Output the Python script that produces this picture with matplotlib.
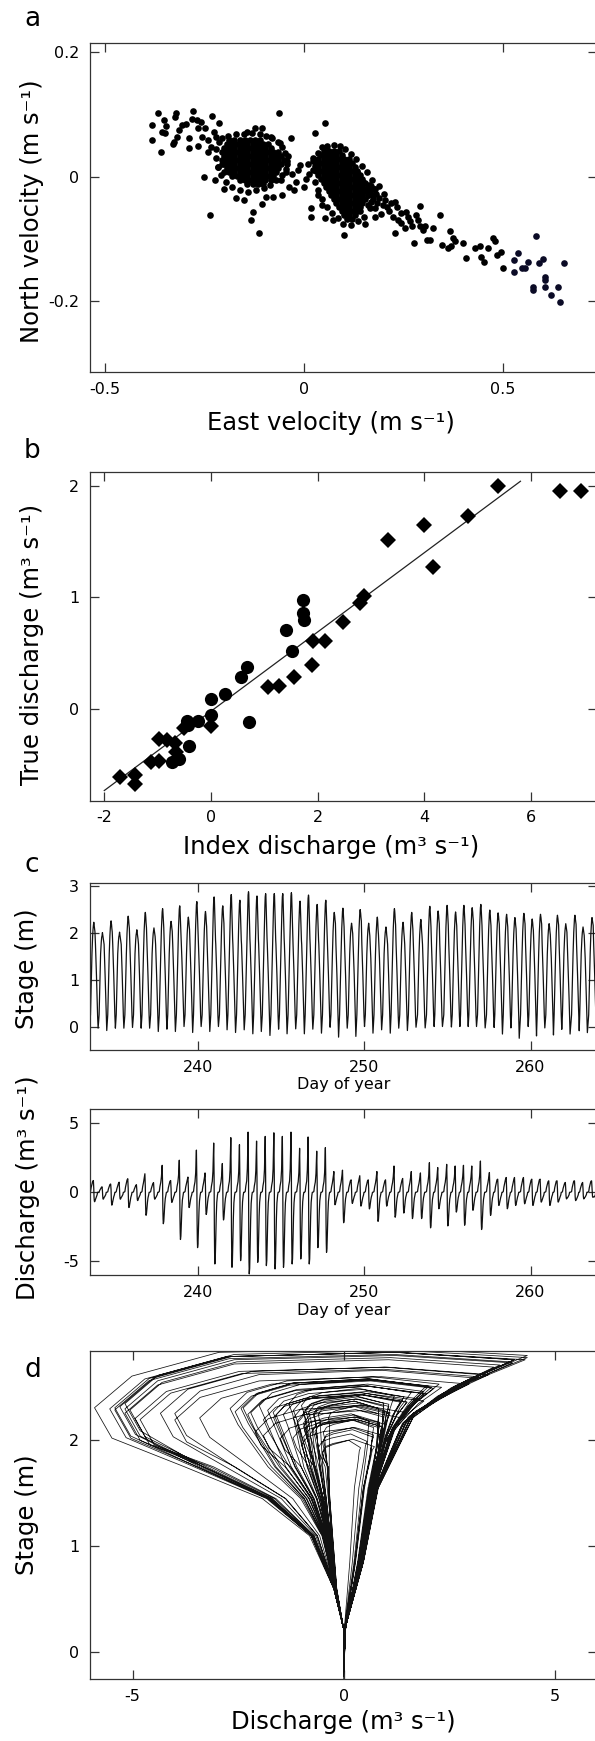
import matplotlib
matplotlib.use("Agg")
import matplotlib.pyplot as plt

plt.rcParams['font.family'] = ['DejaVu Sans']
plt.rcParams['axes.unicode_minus'] = False

# ---------------- panel a : velocity scatter ----------------
sparse_a = [(-0.367, 0.103), (-0.322, 0.103), (-0.278, 0.106), (-0.324, 0.096), (-0.230, 0.098),
            (-0.062, 0.103), (-0.381, 0.083), (-0.352, 0.091), (-0.346, 0.081), (-0.307, 0.083),
            (-0.296, 0.085), (-0.281, 0.093), (-0.269, 0.091), (-0.259, 0.088), (-0.214, 0.086),
            (-0.248, 0.079), (-0.381, 0.059), (-0.357, 0.072), (-0.350, 0.070), (-0.314, 0.075),
            (-0.319, 0.064), (-0.288, 0.063), (-0.267, 0.078), (-0.257, 0.064), (-0.240, 0.059),
            (-0.227, 0.072), (-0.222, 0.064), (-0.360, 0.039), (-0.329, 0.052), (-0.326, 0.056),
            (-0.289, 0.046), (-0.267, 0.050), (-0.240, 0.040), (-0.233, 0.048), (-0.250, 0.000),
            (-0.223, -0.006), (-0.236, -0.061), (-0.217, 0.016), (-0.171, -0.034), (-0.114, -0.091),
            (-0.133, -0.070), (-0.129, -0.057), (-0.105, -0.044), (-0.078, -0.032), (-0.055, -0.029),
            (-0.124, 0.079), (-0.105, 0.078), (-0.083, 0.064),
            (-0.059, 0.054), (-0.032, 0.063), (-0.143, 0.072), (-0.205, 0.020), (-0.200, 0.008),
            (-0.043, 0.020), (-0.029, 0.005), (-0.010, 0.019), (0.010, 0.020), (-0.019, -0.008),
            (-0.024, -0.021), (0.000, -0.016), (0.029, 0.017), (0.014, 0.005), (-0.057, -0.005),
            (-0.038, -0.016), (-0.045, 0.008), (-0.015, 0.010), (0.005, -0.004), (-0.040, 0.033),
            (0.052, 0.087), (0.029, 0.071), (0.019, -0.051), (0.019, -0.065), (0.052, -0.067),
            (0.074, -0.069), (0.102, -0.094), (0.154, -0.076), (0.022, 0.030), (0.035, -0.030),
            (0.045, -0.045)]
# ragged rims of the two dense clouds
rim_a = [(-0.222, 0.045), (-0.220, 0.030), (-0.216, 0.015), (-0.208, 0.002), (-0.195, -0.008),
         (-0.180, -0.016), (-0.160, -0.021), (-0.140, -0.024), (-0.120, -0.021), (-0.100, -0.018),
         (-0.085, -0.013), (-0.070, -0.006), (-0.055, 0.002), (-0.046, 0.012), (-0.042, 0.025),
         (-0.047, 0.038), (-0.056, 0.048), (-0.066, 0.056), (-0.080, 0.062), (-0.095, 0.066),
         (-0.110, 0.068), (-0.130, 0.070), (-0.150, 0.069), (-0.170, 0.068), (-0.190, 0.066),
         (-0.205, 0.062), (-0.214, 0.056), (-0.150, -0.038), (-0.095, -0.033), (-0.200, -0.020),
         (0.022, 0.025), (0.022, 0.010), (0.027, -0.008), (0.036, -0.022), (0.046, -0.036),
         (0.058, -0.048), (0.070, -0.058), (0.085, -0.066), (0.098, -0.076), (0.118, -0.078),
         (0.135, -0.072), (0.150, -0.064), (0.165, -0.050), (0.175, -0.036), (0.180, -0.020),
         (0.172, -0.005), (0.158, 0.008), (0.145, 0.018), (0.130, 0.028), (0.118, 0.036),
         (0.104, 0.044), (0.090, 0.050), (0.075, 0.051), (0.058, 0.050), (0.045, 0.047),
         (0.035, 0.038)]
tail_a = [(0.111, 0.019), (0.133, 0.008), (0.148, -0.008), (0.164, -0.013), (0.176, -0.019),
          (0.181, -0.027), (0.202, -0.027), (0.205, -0.037), (0.210, -0.048), (0.219, -0.043),
          (0.229, -0.040), (0.233, -0.048), (0.236, -0.070), (0.229, -0.091), (0.243, -0.059),
          (0.257, -0.056), (0.262, -0.064), (0.267, -0.072), (0.271, -0.080), (0.276, -0.106),
          (0.281, -0.062), (0.286, -0.070), (0.291, -0.047), (0.293, -0.080), (0.300, -0.086),
          (0.305, -0.080), (0.310, -0.102), (0.316, -0.102), (0.324, -0.083), (0.341, -0.062),
          (0.348, -0.109), (0.362, -0.115), (0.367, -0.088), (0.371, -0.112), (0.376, -0.099),
          (0.381, -0.104), (0.400, -0.107), (0.408, -0.131), (0.429, -0.115), (0.443, -0.112),
          (0.446, -0.129), (0.452, -0.137), (0.462, -0.115), (0.476, -0.098), (0.481, -0.104),
          (0.486, -0.126), (0.495, -0.121), (0.500, -0.147),
          (0.160, -0.030), (0.170, -0.040), (0.190, -0.035), (0.200, -0.045), (0.180, -0.050),
          (0.195, -0.060), (0.215, -0.055), (0.225, -0.065), (0.245, -0.075), (0.255, -0.082),
          (0.170, -0.015), (0.155, -0.020), (0.190, -0.015), (0.160, -0.045), (0.140, -0.055),
          (0.180, -0.065), (0.175, -0.030), (0.185, -0.042)]
far_a = [(0.529, -0.134), (0.529, -0.153), (0.538, -0.123), (0.548, -0.147), (0.557, -0.147),
         (0.564, -0.137), (0.584, -0.096), (0.590, -0.139), (0.602, -0.133), (0.605, -0.161),
         (0.605, -0.166), (0.576, -0.177), (0.576, -0.182), (0.605, -0.177), (0.622, -0.190),
         (0.638, -0.177), (0.643, -0.202), (0.654, -0.139)]
# dense cores: north value of each row and the east values along it
core1_north = [0.0595, 0.053, 0.0465, 0.040, 0.0335, 0.027, 0.0205, 0.014, 0.0075,
               0.001, -0.0055, -0.012]
core1_east = [
    [-0.1875, -0.1745, -0.1615, -0.1485, -0.1355, -0.1225, -0.1095],
    [-0.194, -0.181, -0.168, -0.155, -0.142, -0.129, -0.116, -0.103, -0.090],
    [-0.2005, -0.1875, -0.1745, -0.1615, -0.1485, -0.1355, -0.1225, -0.1095, -0.0965, -0.0835],
    [-0.207, -0.194, -0.181, -0.168, -0.155, -0.142, -0.129, -0.116, -0.103, -0.090, -0.077,
     -0.064],
    [-0.2005, -0.1875, -0.1745, -0.1615, -0.1485, -0.1355, -0.1225, -0.1095, -0.0965,
     -0.0835, -0.0705, -0.0575],
    [-0.207, -0.194, -0.181, -0.168, -0.155, -0.142, -0.129, -0.116, -0.103, -0.090, -0.077,
     -0.064, -0.051],
    [-0.2005, -0.1875, -0.1745, -0.1615, -0.1485, -0.1355, -0.1225, -0.1095, -0.0965, -0.0835,
     -0.0705, -0.0575],
    [-0.194, -0.181, -0.168, -0.155, -0.142, -0.129, -0.116, -0.103, -0.090, -0.077, -0.064],
    [-0.1875, -0.1745, -0.1615, -0.1485, -0.1355, -0.1225, -0.1095, -0.0965, -0.0835, -0.0705],
    [-0.181, -0.168, -0.155, -0.142, -0.129, -0.116, -0.103, -0.090, -0.077],
    [-0.1615, -0.1485, -0.1355, -0.1225, -0.1095, -0.0965, -0.0835],
    [-0.142, -0.129, -0.116, -0.103]]
core2_north = [0.042, 0.0355, 0.029, 0.0225, 0.016, 0.0095, 0.003, -0.0035, -0.010, -0.0165,
               -0.023, -0.0295, -0.036, -0.0425, -0.049, -0.0555, -0.062, -0.0685]
core2_east = [
    [0.0495, 0.0625, 0.0755, 0.0885],
    [0.043, 0.056, 0.069, 0.082, 0.095],
    [0.0365, 0.0495, 0.0625, 0.0755, 0.0885, 0.1015, 0.1145],
    [0.030, 0.043, 0.056, 0.069, 0.082, 0.095, 0.108, 0.121],
    [0.0365, 0.0495, 0.0625, 0.0755, 0.0885, 0.1015, 0.1145, 0.1275],
    [0.030, 0.043, 0.056, 0.069, 0.082, 0.095, 0.108, 0.121, 0.134],
    [0.0365, 0.0495, 0.0625, 0.0755, 0.0885, 0.1015, 0.1145, 0.1275, 0.1405],
    [0.043, 0.056, 0.069, 0.082, 0.095, 0.108, 0.121, 0.134, 0.147],
    [0.0495, 0.0625, 0.0755, 0.0885, 0.1015, 0.1145, 0.1275, 0.1405, 0.1535],
    [0.056, 0.069, 0.082, 0.095, 0.108, 0.121, 0.134, 0.147, 0.160],
    [0.0625, 0.0755, 0.0885, 0.1015, 0.1145, 0.1275, 0.1405, 0.1535, 0.1665],
    [0.069, 0.082, 0.095, 0.108, 0.121, 0.134, 0.147, 0.160],
    [0.0755, 0.0885, 0.1015, 0.1145, 0.1275, 0.1405, 0.1535],
    [0.082, 0.095, 0.108, 0.121, 0.134, 0.147],
    [0.0885, 0.1015, 0.1145, 0.1275, 0.1405],
    [0.095, 0.108, 0.121, 0.134],
    [0.1015, 0.1145, 0.1275],
    [0.108, 0.121]]

# ---------------- panel b : rating ----------------
diamond_x = [-1.70, -1.43, -1.42, -1.13, -0.97, -0.97, -0.83, -0.67, -0.65, -0.51, 0.0, 1.06, 1.28,
             1.55, 1.89, 1.91, 2.13, 2.48, 2.79, 2.86, 3.32, 3.99, 4.16, 4.81, 5.38, 6.55, 6.94]
diamond_y = [-0.612, -0.59, -0.67, -0.475, -0.463, -0.272, -0.28, -0.30, -0.388, -0.167, -0.149, 0.20,
             0.206, 0.29, 0.394, 0.609, 0.612, 0.782, 0.946, 1.015, 1.513, 1.648, 1.275, 1.728, 2.0,
             1.952, 1.952]
circle_x = [-0.74, -0.60, -0.42, -0.45, -0.43, -0.24, 0.0, 0.0, 0.27, 0.57, 0.68, 0.71, 1.40, 1.52,
            1.72, 1.72, 1.74]
circle_y = [-0.475, -0.45, -0.331, -0.104, -0.143, -0.104, 0.087, -0.054, 0.131, 0.29, 0.379, -0.113,
            0.707, 0.522, 0.976, 0.863, 0.797]
fit_x = [-2.0, 5.8]
fit_y = [-0.73, 2.04]

# ---------------- panel c/d : tidal cycles ----------------
peak_day = [233.72, 234.24, 234.76, 235.27, 235.79, 236.31, 236.82, 237.34, 237.86, 238.37,
            238.89, 239.41, 239.92, 240.44, 240.96, 241.48, 241.99, 242.51, 243.03, 243.54,
            244.06, 244.58, 245.09, 245.61, 246.13, 246.64, 247.16, 247.68, 248.19, 248.71,
            249.23, 249.75, 250.26, 250.78, 251.30, 251.81, 252.33, 252.85, 253.40, 253.94,
            254.44, 254.98, 255.49, 255.99, 256.49, 257.01, 257.55, 258.05, 258.56, 259.06,
            259.60, 260.10, 260.60, 261.12, 261.62, 262.12, 262.67, 263.16, 263.70]
stage_peak = [2.22, 2.00, 2.25, 2.01, 2.35, 2.06, 2.43, 2.10, 2.51, 2.24, 2.57, 2.33, 2.66, 2.45,
              2.76, 2.57, 2.81, 2.69, 2.87, 2.78, 2.83, 2.83, 2.83, 2.85, 2.67, 2.80, 2.60, 2.69,
              2.43, 2.52, 2.20, 2.49, 2.20, 2.33, 2.12, 2.51, 2.22, 2.43, 2.28, 2.56, 2.46, 2.58,
              2.44, 2.58, 2.53, 2.60, 2.48, 2.42, 2.39, 2.32, 2.41, 2.29, 2.39, 2.19, 2.37, 2.19,
              2.37, 2.12, 2.32]
stage_trough = [-0.05, -0.035, -0.085, -0.035, -0.035, -0.02, -0.035, -0.035, -0.106, -0.056, -0.106,
                0.0, -0.127, 0.0, -0.106, 0.0, -0.07, -0.127, -0.07, -0.155, -0.106, -0.19, -0.056,
                -0.155, -0.05, -0.155, -0.056, -0.141, -0.015, -0.226, -0.035, -0.21, 0.0, -0.141,
                -0.07, -0.141, -0.035, -0.085, -0.015, -0.03, 0.0, 0.0, -0.01, 0.0, 0.0, 0.0, -0.03,
                -0.02, -0.16, -0.03, -0.25, 0.0, -0.2, -0.03, -0.18, -0.06, -0.16, -0.09, -0.13, -0.05]
q_pos = [0.85, 0.4, 0.6, 0.73, 0.98, 0.55, 1.34, 0.7, 1.95, 0.85, 2.32, 1.1, 3.05, 1.4, 3.56, 2.08,
         3.95, 3.44, 4.35, 3.7, 4.04, 4.3, 4.04, 4.35, 3.18, 4.0, 2.97, 3.23, 1.5, 1.6, 0.9, 1.2, 0.9,
         1.5, 0.9, 1.9, 1.0, 1.5, 1.4, 2.14, 1.79, 2.02, 1.9, 1.95, 1.9, 2.26, 1.43, 0.95, 1.07,
         1.07, 1.07, 0.95, 0.95, 0.83, 0.83, 0.71, 0.83, 0.71, 0.83]
q_neg = [-0.68, -0.5, -0.93, -0.5, -1.1, -0.6, -1.66, -0.5, -2.27, -0.73, -3.41, -1.1, -4.0, -1.6,
         -5.18, -2.0, -5.42, -4.94, -5.9, -5.06, -5.3, -5.54, -5.42, -5.18, -4.82, -5.18, -4.0,
         -4.34, -0.9, -2.2, -0.8, -1.0, -1.2, -2.1, -1.0, -1.8, -1.5, -1.9, -1.9, -2.57, -1.19,
         -2.43, -1.43, -2.38, -1.3, -2.69, -1.67, -0.95, -1.19, -0.95, -0.83, -0.95, -0.71, -0.95,
         -0.71, -0.48, -0.6, -0.48, -0.36]
# timing of the within-cycle vertices relative to high water (days)
cycle_offsets = [-0.20, -0.16, -0.11, -0.07, -0.045, -0.025, 0.0, 0.015, 0.03, 0.045, 0.07,
                 0.085, 0.10, 0.13, 0.16, 0.20, 0.23, 0.26]

t_series = [peak_day[0] - 0.26]
h_series = [stage_trough[0]]
q_series = [0.0]
for k in range(len(peak_day)):
    tp, Hk, P, N, L = peak_day[k], stage_peak[k], q_pos[k], q_neg[k], stage_trough[k + 1]
    s = abs(N) / 5.5
    r = min(1.0, P / 0.9)
    a = Hk / 2.45
    hk = Hk - 0.68 * s - 0.12
    ql = -0.45 * a + 0.6 * (N + 0.5)
    hs = [0.25, 0.85, 1.55, 1.55 + 0.55 * (Hk - 1.55), 1.55 + 0.78 * (Hk - 1.55), Hk - 0.07, Hk,
          Hk - 0.04, Hk - 0.2 * s - 0.05, Hk - 0.45 * s - 0.08, hk, 1.75 + 0.4 * (hk - 1.75),
          1.75, 1.45, 1.1, 0.6, 0.22, L]
    base = 0.9 * r * a
    qs = [0.05 * r, 0.4 * r * a, 0.7 * r * a, base + 0.2 * (P - base), base + 0.6 * (P - base), P,
          0.3 * P, 0.5 * N, 0.85 * N, N, 0.93 * N, 0.4 * 0.93 * N + 0.6 * ql, ql,
          -0.4 * a + 0.27 * (N + 0.5), -0.32 * a + 0.08 * (N + 0.5), -0.2 * a, 0.0, 0.0]
    for o, hv, qv in zip(cycle_offsets, hs, qs):
        t_series.append(tp + o)
        h_series.append(hv)
        q_series.append(qv)

# ---------------- figure ----------------
W, H = 595, 1741
fig = plt.figure(figsize=(W / 100, H / 100), dpi=100)
SP = '#333333'
LAB = 17.5
TK = 11.5


def add_ax(top, bottom, left=90.3, right=597.0):
    return fig.add_axes([left / W, 1 - bottom / H, (right - left) / W, (bottom - top) / H])


def style(ax, xt, xtl, yt, ytl, xlim, ylim):
    ax.set_xlim(*xlim)
    ax.set_ylim(*ylim)
    ax.set_xticks(xt)
    ax.set_xticklabels(xtl)
    ax.set_yticks(yt)
    ax.set_yticklabels(ytl)
    ax.tick_params(axis='both', direction='in', length=6.5, width=0.9, color=SP,
                   top=True, right=True, labelsize=TK, labelcolor='black')
    ax.tick_params(axis='x', pad=7)
    ax.tick_params(axis='y', pad=8)
    for sp in ax.spines.values():
        sp.set_color(SP)
        sp.set_linewidth(0.9)


def labels(ax, xl, xpos, yl, ypos):
    ax.set_xlabel(xl, fontsize=LAB if xpos[2] else TK, va='center', ha='center')
    ax.xaxis.set_label_coords(xpos[0], xpos[1])
    ax.set_ylabel(yl, fontsize=LAB, va='center', ha='center')
    ax.yaxis.set_label_coords(ypos[0], ypos[1])


# panel a
axa = add_ax(43.3, 372.0)
e_core, n_core = [], []
for nv, row in zip(core1_north + core2_north, core1_east + core2_east):
    for ev in row:
        e_core.append(ev)
        n_core.append(nv)
main_a = sparse_a + rim_a + tail_a
axa.scatter([p[0] for p in main_a] + e_core, [p[1] for p in main_a] + n_core,
            s=23, color='black', linewidths=0, zorder=3)
axa.scatter([p[0] for p in far_a], [p[1] for p in far_a], s=23, color='#0b0b26',
            linewidths=0, zorder=3)
style(axa, [-0.5, 0, 0.5], ['-0.5', '0', '0.5'], [-0.2, 0, 0.2], ['-0.2', '0', '0.2'],
      (-0.537, 0.737), (-0.314, 0.2145))
labels(axa, 'East velocity (m s⁻¹)', (0.475, -0.155, True), 'North velocity (m s⁻¹)', (-0.115, 0.488))

# panel b
axb = add_ax(472.0, 800.7)
axb.plot(fit_x, fit_y, color='#222222', lw=0.9, zorder=2)
axb.plot(diamond_x, diamond_y, 'D', color='black', ms=7.8, mew=0, zorder=3)
axb.plot(circle_x, circle_y, 'o', color='black', ms=9.5, mew=0, zorder=3)
style(axb, [-2, 0, 2, 4, 6], ['-2', '0', '2', '4', '6'], [0, 1, 2], ['0', '1', '2'],
      (-2.262, 7.235), (-0.821, 2.123))
labels(axb, 'Index discharge (m³ s⁻¹)', (0.475, -0.14, True), 'True discharge (m³ s⁻¹)', (-0.115, 0.474))

# panel c (stage)
axc1 = add_ax(883.3, 1050.0)
axc1.plot(t_series, h_series, color='#111111', lw=0.9)
style(axc1, [240, 250, 260], ['240', '250', '260'], [0, 1, 2, 3], ['0', '1', '2', '3'],
      (233.51, 264.0), (-0.5, 3.05))
labels(axc1, 'Day of year', (0.5, -0.204, False), 'Stage (m)', (-0.125, 0.49))

# panel c (discharge)
axc2 = add_ax(1109.3, 1275.3)
axc2.plot(t_series, q_series, color='#111111', lw=0.9)
style(axc2, [240, 250, 260], ['240', '250', '260'], [-5, 0, 5], ['-5', '0', '5'],
      (233.51, 264.0), (-6.0, 6.0))
labels(axc2, 'Day of year', (0.5, -0.213, False), 'Discharge (m³ s⁻¹)', (-0.123, 0.526))

# panel d
axd = add_ax(1350.5, 1679.3)
axd.plot(q_series, h_series, color='#111111', lw=0.55)
style(axd, [-5, 0, 5], ['-5', '0', '5'], [0, 1, 2], ['0', '1', '2'],
      (-6.0, 6.0), (-0.254, 2.847))
labels(axd, 'Discharge (m³ s⁻¹)', (0.5, -0.13, True), 'Stage (m)', (-0.125, 0.5))

for letter, yb in [('a', 26), ('b', 458.3), ('c', 872.3), ('d', 1377.3)]:
    fig.text(24 / W, 1 - yb / H, letter, fontsize=19, ha='left', va='baseline')

fig.savefig('out.png', dpi=100)
